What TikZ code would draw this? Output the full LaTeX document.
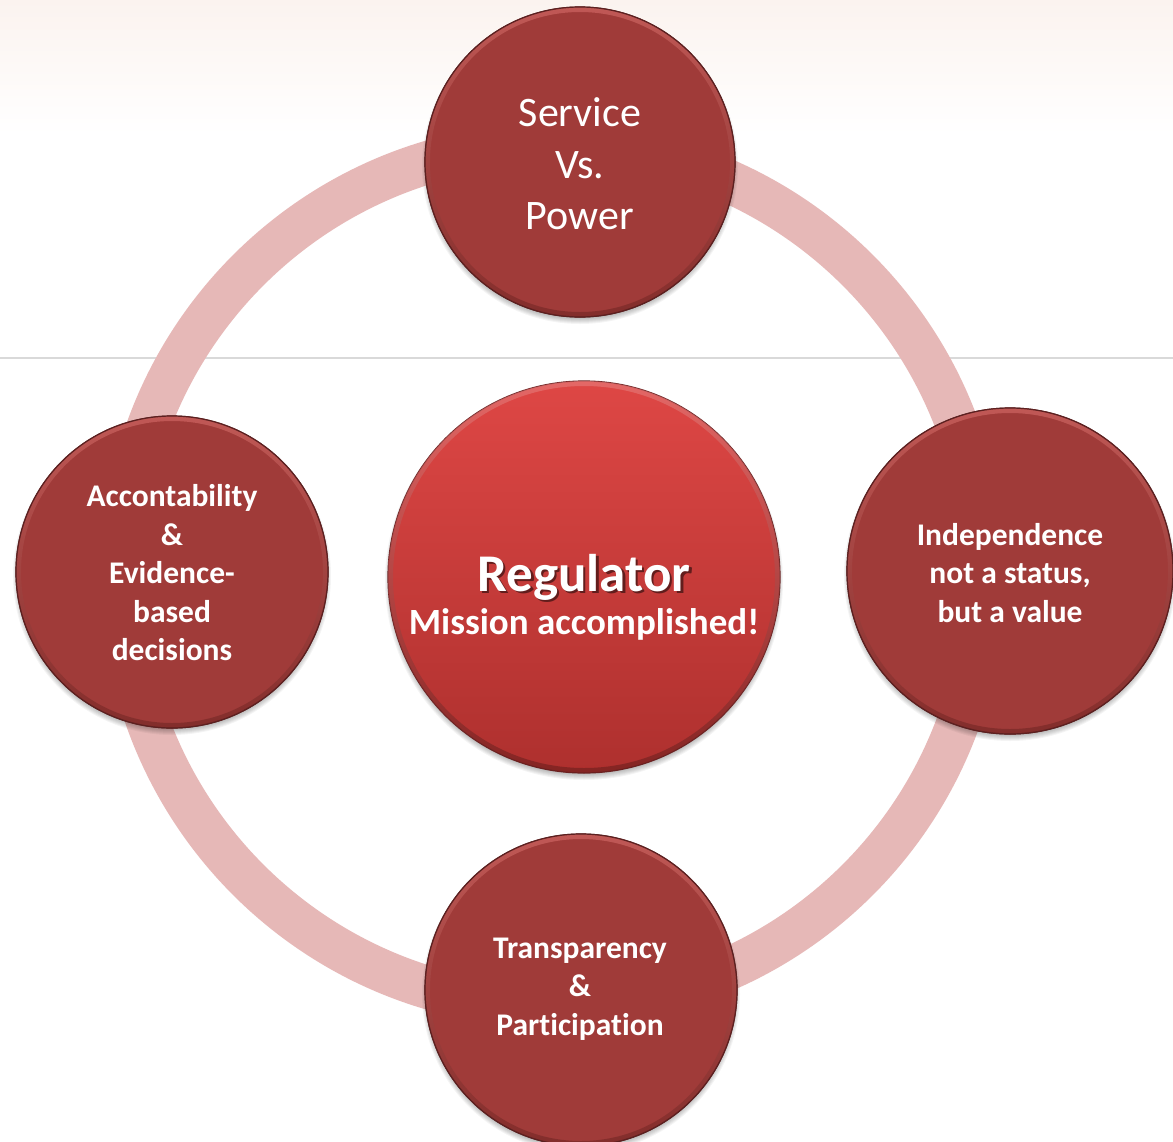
\documentclass[tikz,border=0pt]{standalone}
\usepackage{fontspec}
\newfontfamily\calib[Ligatures={NoCommon}]{Carlito}
\definecolor{ringcol}{HTML}{E6B8B7}
\definecolor{bubred}{HTML}{A03B39}
\definecolor{bubedge}{HTML}{5C2020}
\definecolor{rimtop}{HTML}{C65E5B}
\definecolor{rimbot}{HTML}{7E2B29}
\definecolor{ctop}{HTML}{DE4745}
\definecolor{cbot}{HTML}{AE302E}
\definecolor{linegray}{HTML}{D9D9D9}
\definecolor{bandtop}{HTML}{FBF3EF}
\tikzset{
  bub/.style={circle, inner sep=0pt, fill=bubred, draw=bubedge, line width=1.2pt,
    text=white, align=center},
  bubtext/.style={font=\calib\bfseries\fontsize{31.5}{38.5}\selectfont, text=white, align=center},
  regtext/.style={font=\calib\fontsize{42}{51.5}\selectfont, text=white, align=center},
}
\newcommand\bubshadow[3]{%
  \foreach \k in {0,...,6}{\fill[black,opacity=0.045] (#1,{#2+4}) circle ({#3+3-\k});}}
\newcommand\bubrim[4]{%
  \shade[top color=#4, bottom color=rimbot, even odd rule, opacity=0.85]
    (#1,#2) circle (#3) (#1,#2) circle ({#3-5});
  \draw[bubedge, line width=1.2pt] (#1,#2) circle (#3);}
\begin{document}
\begin{tikzpicture}[x=1pt,y=-1pt]
\useasboundingbox (0,0) rectangle (1173,1141);
\fill[white] (0,0) rectangle (1173,1141);
\shade[top color=bandtop, bottom color=white] (0,0) rectangle (1173,135);
\draw[linegray, line width=1.5pt] (0,358) -- (1173,358);
% ring
\draw[ringcol, line width=43pt] (553,575) circle (431);
% shadows
\bubshadow{580}{162}{155}
\bubshadow{172}{572}{156}
\bubshadow{1010}{571}{163}
\bubshadow{581}{990}{156}
\bubshadow{584}{577}{196}
% outer bubbles
\node[bub, minimum size=310pt] (top) at (580,162) {};
\bubrim{580}{162}{155}{rimtop}
\node[bub, minimum size=312pt] (left) at (172,572) {};
\bubrim{172}{572}{156}{rimtop}
\node[bub, minimum size=326pt] (right) at (1010,571) {};
\bubrim{1010}{571}{163}{rimtop}
\node[bub, minimum size=312pt] (bottom) at (581,990) {};
\bubrim{581}{990}{156}{rimtop}
% centre
\node[circle, inner sep=0pt, minimum size=392pt, top color=ctop, bottom color=cbot, draw=bubedge!80!cbot, line width=1.2pt] (centre) at (584,577) {};
\shade[top color=ctop!70!white, bottom color=cbot!60!black, even odd rule, opacity=0.6]
  (584,577) circle (196) (584,577) circle (191);
% texts
\node[regtext] (ttop) at (580,164) {Service\\Vs.\\Power};
\node[bubtext] (tleft) at (172,573) {Accontability\\\&\\Evidence-\\based\\decisions};
\node[bubtext] (tright) at (1010,573) {Independence\\not a status,\\but a value};
\node[bubtext] (tbottom) at (580,989) {Transparency\\\&\\Participation};
\node[font=\calib\bfseries\fontsize{53}{60}\selectfont, text=black, opacity=0.5] (regshadow) at (586.5,579.5) {Regulator};
\node[font=\calib\bfseries\fontsize{53}{60}\selectfont, text=white] (reg) at (584,577) {Regulator};
\node[font=\calib\bfseries\fontsize{37}{44}\selectfont, text=white] (miss) at (584,624) {Mission accomplished!};
\end{tikzpicture}
\end{document}
